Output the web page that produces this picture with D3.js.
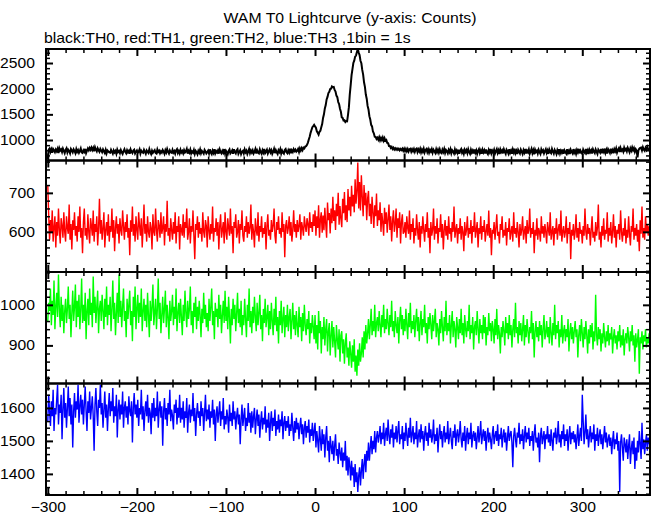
<!DOCTYPE html>
<html><head><meta charset="utf-8">
<script src="https://cdn.jsdelivr.net/npm/d3@7"></script>
<style>body{margin:0;background:#fff}svg{display:block}</style>
</head><body>
<script>
// ---- data (1 s bins starting at t = -300 s) ----
const tStart = -300, binWidth = 1;
const th0 = [
630,812,835,770,818,752,826,799,764,815,
781,829,748,840,795,817,766,832,790,744,
806,838,757,810,784,741,825,796,760,818,
787,745,822,768,803,752,790,836,761,749,
800,771,828,744,792,834,799,845,810,852,
805,848,783,860,812,779,838,801,770,827,
794,762,817,781,746,808,740,795,776,759,
752,810,771,735,796,758,786,730,813,766,
788,744,805,762,729,781,820,768,741,801,
760,789,732,815,770,745,794,812,738,772,
797,748,775,818,736,790,764,751,809,771,
733,796,769,746,821,762,725,793,750,780,
803,751,738,816,767,791,740,779,755,806,
774,731,800,758,824,769,737,797,761,752,
808,755,783,734,799,822,748,786,739,810,
757,785,741,804,759,781,826,735,789,756,
812,738,776,753,806,730,787,760,722,790,
754,815,742,788,761,733,807,775,739,764,
792,736,818,757,726,793,750,820,741,784,
759,797,735,814,763,740,789,755,823,737,
791,758,724,786,817,739,762,798,732,821,
763,737,795,819,731,768,801,727,772,790,
740,816,761,793,729,774,825,745,796,757,
798,735,769,822,738,800,756,741,818,766,
734,802,757,824,743,771,809,736,779,815,
760,799,730,773,827,744,803,762,728,801,
768,823,739,794,752,733,806,826,763,742,
801,757,829,741,798,766,820,785,812,771,
790,826,768,836,795,842,803,850,835,872,
880,905,950,1010,1065,1140,1195,1250,1270,1295,
1265,1240,1170,1140,1105,1160,1180,1250,1310,1430,
1500,1615,1680,1790,1840,1915,1940,1995,2000,2045,
2030,2035,1975,1945,1865,1835,1740,1700,1610,1550,
1440,1430,1380,1385,1350,1370,1365,1490,1640,1890,
2070,2265,2380,2500,2545,2625,2645,2715,2770,2705,
2655,2545,2495,2365,2275,2125,2035,1885,1805,1665,
1595,1465,1400,1295,1265,1165,1130,1065,1060,1020,
1045,1005,1055,995,1040,1000,1050,990,1035,985,
1000,945,940,885,885,845,865,825,850,815,
840,812,835,808,830,800,826,805,832,790,
830,784,826,781,824,776,820,829,773,818,
782,826,770,819,834,766,815,777,829,760,
813,771,830,758,806,825,764,817,752,808,
775,822,751,809,779,748,820,763,811,755,
818,760,745,812,768,826,750,804,779,741,
807,766,821,743,800,775,738,815,756,797,
748,812,735,795,824,752,790,731,808,767,
803,744,819,762,729,809,758,796,737,815,
752,798,730,788,823,746,794,734,811,760,
801,739,817,755,727,806,763,826,741,790,
757,810,736,782,821,748,796,728,814,765,
799,740,818,769,731,812,784,738,820,751,
795,733,815,760,829,742,787,726,808,771,
738,813,775,729,802,757,824,736,791,762,
816,734,780,827,745,799,721,811,766,790,
737,808,763,728,818,771,801,739,785,822,
751,796,730,815,768,744,826,777,735,806,
772,727,803,758,821,740,792,753,814,732,
798,764,735,819,750,790,726,810,769,741,
823,752,789,731,805,761,828,739,794,758,
733,812,770,745,824,756,797,728,811,766,
801,738,819,779,747,816,772,730,813,785,
754,825,741,798,766,833,752,807,738,822,
789,750,829,768,805,744,820,781,836,757,
808,840,765,845,792,816,774,850,799,826,
780,848,806,762,838,795,857,803,842,772,
822,790,660,798,831,846,852,797,861,815,
790,849,812,866,824,801];
const th1 = [
720,645,580,630,598,655,575,612,640,560,
625,590,660,605,570,635,615,585,650,600,
575,640,610,595,670,580,620,555,630,605,
650,590,615,575,640,600,665,585,610,545,
625,660,590,610,580,645,600,570,635,615,
590,655,575,620,600,640,565,610,685,595,
630,580,610,650,560,605,625,590,645,575,
615,600,660,585,630,550,610,640,595,620,
570,635,605,590,655,615,580,625,600,645,
585,610,540,630,600,665,590,620,575,640,
605,580,650,615,590,635,560,610,670,595,
620,575,640,600,585,625,610,555,645,600,
590,660,605,575,630,615,585,650,595,610,
640,565,620,600,680,590,610,575,635,605,
580,625,595,650,570,615,600,640,555,620,
605,590,645,585,625,610,660,580,600,635,
570,615,600,655,590,530,620,605,640,585,
625,595,610,575,650,600,585,630,615,560,
640,605,580,620,595,665,575,610,600,635,
590,625,555,615,645,585,605,625,570,650,
600,580,635,610,590,660,595,615,545,625,
610,645,585,600,630,570,620,605,655,590,
575,615,600,640,585,625,595,610,670,580,
620,600,560,635,605,590,650,575,615,600,
640,585,610,595,625,555,615,645,590,605,
580,630,600,615,660,590,570,625,605,640,
595,610,585,650,600,620,535,615,630,595,
610,640,590,625,575,605,655,600,620,585,
630,600,615,645,580,625,610,590,640,615,
600,635,620,590,650,610,625,600,645,615,
655,590,640,610,668,585,632,650,598,642,
604,662,620,585,675,630,648,596,660,622,
690,628,655,605,672,640,700,618,666,635,
612,685,648,702,630,668,625,710,655,690,
640,718,665,695,650,735,672,705,778,660,
728,655,745,690,640,720,668,700,630,685,
705,640,672,620,690,650,610,668,640,698,
615,655,630,676,600,648,625,590,662,620,
650,598,632,670,605,640,575,628,655,600,
620,660,585,635,610,650,570,625,645,595,
600,625,585,640,610,595,655,580,620,600,
635,570,610,590,645,605,580,625,560,615,
595,640,605,575,620,600,650,585,610,545,
625,590,605,660,580,615,595,635,570,610,
600,645,585,620,555,605,630,590,615,580,
640,595,610,575,625,600,665,585,605,620,
570,610,595,635,580,615,600,550,625,590,
605,640,585,610,595,630,570,615,600,650,
585,605,625,560,610,595,640,580,615,600,
630,575,600,620,590,655,585,610,540,605,
595,625,580,610,645,590,600,570,620,605,
640,585,605,590,625,565,610,600,635,580,
600,615,575,650,595,610,585,625,600,560,
620,590,605,640,580,600,615,570,630,595,
605,660,585,610,595,625,545,605,590,635,
580,610,600,575,640,595,615,585,620,600,
570,625,605,590,650,580,600,615,565,610,
595,635,580,605,620,590,655,575,600,615,
585,600,640,570,610,595,625,530,605,590,
620,580,600,645,585,610,575,625,595,605,
570,615,590,660,600,580,620,595,610,565,
605,640,585,600,575,625,590,610,670,580,
600,560,615,590,635,580,605,595,650,575,
610,590,625,570,600,645,585,615,560,605,
595,620,580,655,600,575,610,590,635,570,
605,585,640,595,565,615,600,660,580,610,
590,620,575,605,550,630,595,665,585,610,
580,640,600,620,590,615];
const th2 = [
960,1005,985,1040,950,1010,975,1060,940,995,
1030,970,1075,990,945,1020,960,1000,930,985,
1015,955,990,1045,965,1000,920,980,1035,960,
995,1050,945,1010,970,1025,940,990,1065,955,
1000,960,1030,915,985,1015,950,1040,975,1005,
945,1070,980,1020,955,995,1035,930,990,1010,
960,1025,985,940,1015,970,1045,950,1000,975,
1020,935,990,1060,965,1005,925,980,1030,955,
1075,970,1010,945,995,1040,960,985,920,1015,
965,1000,1035,950,985,910,1020,970,1045,940,
990,1025,955,1005,970,1040,935,985,1015,960,
1000,945,1030,975,920,1010,960,995,1050,950,
980,1015,940,990,1065,965,1005,930,975,1020,
955,990,1035,945,1000,970,915,1010,960,985,
1025,950,995,965,1040,935,980,1005,955,1015,
970,925,1000,960,1035,980,945,1010,965,990,
1045,950,985,930,1005,970,1020,940,995,960,
1010,975,920,990,955,1030,965,1000,945,980,
935,1015,960,995,1040,950,985,915,1005,970,
990,945,1025,965,1000,930,975,1010,955,1035,
960,995,940,1020,970,905,990,950,1015,965,
1000,935,980,1030,955,990,945,1010,925,975,
950,1015,965,920,1000,960,1040,945,985,930,
995,955,1020,970,935,1005,950,980,1025,940,
975,910,990,955,1015,945,970,1000,925,985,
940,1005,960,925,990,950,1020,935,970,905,
985,950,1010,930,965,995,920,975,945,1000,
935,970,990,915,960,1005,940,975,925,985,
950,920,995,945,970,910,980,935,1000,950,
925,965,940,985,905,955,930,975,945,915,
975,905,950,890,985,930,960,880,945,915,
970,900,940,965,885,935,955,875,925,960,
895,945,910,870,950,915,890,940,860,925,
935,880,915,855,905,930,870,895,850,910,
880,845,900,860,915,835,875,825,890,850,
905,860,880,920,870,935,890,950,905,930,
965,915,950,990,925,960,935,1000,920,955,
970,935,985,950,920,975,945,1000,930,965,
940,990,955,925,975,945,1010,935,960,920,
985,950,930,970,905,960,995,940,975,925,
965,935,990,950,915,980,945,1005,930,960,
940,975,920,960,990,935,970,910,955,985,
925,965,945,1000,930,955,905,970,940,980,
950,915,975,935,960,990,920,955,940,900,
965,930,985,945,910,970,935,1010,925,955,
935,975,905,950,985,920,960,940,895,970,
945,915,965,930,990,925,955,905,975,940,
920,960,935,1000,915,950,930,970,890,945,
960,925,985,940,905,965,930,950,915,975,
930,970,900,945,925,980,935,955,910,960,
940,905,965,925,990,915,950,930,880,945,
920,960,935,900,970,930,955,915,975,925,
950,895,940,965,920,1005,930,945,905,960,
925,955,910,940,975,900,950,920,965,935,
905,945,930,985,915,955,870,935,960,920,
945,910,960,925,950,895,940,975,915,930,
960,920,945,905,970,930,900,955,925,1000,
915,950,930,960,895,940,920,975,905,935,
950,910,940,920,965,885,930,955,915,945,
905,935,960,920,940,870,925,950,910,965,
930,895,945,915,960,925,880,940,905,950,
920,955,890,935,910,1025,925,900,945,915,
940,885,930,905,955,920,895,935,910,950,
900,930,915,945,880,920,940,905,925,890,
935,910,950,895,925,900,940,875,915,930,
905,945,920,885,935,910,950,900,925,860,
930,895,915,940,830,920,905,935,890,925,
910,940,895,920,905,930];
const th3 = [
1560,1640,1590,1545,1620,1575,1655,1530,1600,1580,
1625,1670,1550,1610,1585,1640,1505,1595,1660,1570,
1615,1540,1600,1665,1575,1630,1550,1610,1480,1590,
1645,1570,1620,1595,1670,1555,1605,1640,1580,1625,
1550,1610,1665,1590,1530,1620,1585,1650,1565,1600,
1635,1575,1470,1610,1660,1590,1545,1625,1600,1670,
1580,1615,1540,1595,1650,1570,1610,1530,1600,1645,
1575,1620,1590,1660,1555,1605,1575,1640,1510,1595,
1625,1565,1610,1580,1650,1540,1600,1620,1570,1605,
1550,1635,1590,1575,1620,1495,1600,1645,1580,1610,
1570,1625,1545,1600,1580,1655,1565,1605,1530,1590,
1620,1575,1640,1555,1600,1585,1520,1615,1570,1630,
1560,1600,1575,1650,1540,1595,1620,1570,1605,1485,
1590,1630,1565,1600,1545,1615,1580,1655,1560,1595,
1575,1535,1610,1585,1625,1550,1600,1570,1640,1555,
1600,1565,1620,1540,1590,1570,1630,1525,1585,1610,
1555,1595,1575,1645,1560,1600,1515,1580,1615,1570,
1590,1545,1620,1575,1600,1530,1585,1640,1560,1595,
1565,1610,1540,1590,1570,1625,1550,1595,1500,1580,
1605,1555,1585,1620,1545,1590,1565,1630,1535,1575,
1550,1595,1570,1525,1610,1560,1585,1545,1620,1565,
1590,1535,1575,1600,1550,1580,1490,1565,1610,1545,
1575,1600,1530,1570,1545,1615,1555,1585,1525,1590,
1540,1575,1600,1520,1565,1595,1545,1580,1510,1560,
1590,1535,1570,1550,1605,1525,1565,1540,1585,1500,
1555,1590,1530,1570,1545,1595,1515,1560,1535,1580,
1525,1565,1545,1590,1505,1555,1575,1530,1560,1540,
1575,1515,1550,1530,1585,1540,1500,1560,1525,1570,
1535,1555,1505,1545,1570,1520,1550,1490,1540,1560,
1510,1545,1525,1565,1495,1535,1515,1555,1500,1530,
1555,1480,1530,1500,1465,1545,1505,1470,1535,1490,
1520,1450,1510,1545,1470,1500,1435,1515,1485,1460,
1500,1440,1485,1520,1455,1475,1430,1495,1465,1440,
1480,1420,1465,1440,1500,1410,1455,1395,1450,1425,
1380,1440,1395,1420,1360,1430,1375,1405,1345,1395,
1420,1365,1410,1445,1385,1430,1460,1405,1470,1440,
1495,1440,1480,1515,1460,1500,1475,1530,1465,1510,
1530,1495,1515,1545,1490,1525,1505,1555,1485,1520,
1540,1500,1565,1515,1490,1535,1510,1550,1480,1525,
1505,1545,1495,1530,1560,1490,1520,1505,1545,1475,
1525,1500,1555,1515,1485,1540,1510,1570,1495,1520,
1545,1490,1525,1505,1560,1480,1515,1535,1495,1550,
1505,1530,1470,1520,1545,1500,1525,1485,1555,1510,
1535,1495,1515,1565,1490,1520,1500,1540,1465,1515,
1550,1505,1530,1480,1520,1545,1495,1525,1505,1560,
1490,1515,1540,1500,1475,1530,1510,1550,1485,1520,
1535,1495,1520,1560,1505,1480,1525,1500,1545,1470,
1515,1540,1490,1525,1505,1555,1480,1515,1530,1500,
1525,1475,1510,1545,1495,1520,1560,1490,1515,1535,
1500,1530,1470,1515,1540,1495,1525,1505,1475,1520,
1545,1490,1515,1530,1500,1550,1485,1520,1505,1540,
1480,1515,1535,1495,1525,1470,1510,1545,1500,1520,
1530,1495,1420,1515,1540,1505,1480,1525,1510,1555,
1490,1520,1500,1535,1475,1515,1545,1495,1525,1505,
1540,1485,1515,1500,1530,1470,1520,1550,1495,1510,
1480,1525,1435,1515,1540,1490,1510,1530,1475,1520,
1505,1545,1495,1520,1485,1535,1500,1470,1525,1510,
1540,1490,1515,1560,1495,1520,1480,1530,1505,1550,
1485,1520,1500,1535,1470,1515,1545,1490,1525,1505,
1530,1495,1520,1475,1510,1550,1485,1515,1540,1500,
1640,1560,1490,1525,1580,1505,1535,1480,1515,1545,
1495,1525,1505,1550,1470,1520,1500,1540,1485,1515,
1535,1490,1520,1475,1510,1545,1495,1525,1480,1505,
1520,1485,1510,1460,1500,1530,1475,1505,1490,1525,
1470,1500,1345,1495,1520,1480,1440,1510,1490,1465,
1505,1445,1485,1520,1430,1475,1500,1460,1510,1415,
1480,1440,1500,1465,1530,1490,1445,1555,1475,1505,
1460,1495,1520,1470,1510,1490];

const series = [th0, th1, th2, th3];
const seriesColors = ["#000000", "#ff0000", "#00ff00", "#0000ff"];
const yDomains = [[601, 2773], [497, 783], [806, 1081], [1336, 1674]];
const yMajorTicks = [[1000, 1500, 2000, 2500], [600, 700], [900, 1000], [1400, 1500, 1600]];
const yMinorStep = [100, 20, 20, 20];
const xDomain = [-302, 376];
const xMajorTicks = [-300, -200, -100, 0, 100, 200, 300];
const xMinorStep = 20;
const titleText = "WAM T0 Lightcurve (y-axis: Counts)";
const subtitleText = "black:TH0, red:TH1, green:TH2, blue:TH3 ,1bin = 1s";

// ---- layout ----
const W = 652, H = 515;
const plotLeft = 46, plotRight = 650, plotTop = 49, plotBottom = 495;
const nP = series.length;
const panelH = (plotBottom - plotTop) / nP;
const FONT = "'Liberation Sans', Arial, Helvetica, sans-serif";
const majorLen = 7, minorLen = 4;

const svg = d3.select("body").append("svg").attr("width", W).attr("height", H);
svg.append("rect").attr("width", W).attr("height", H).attr("fill", "#fff");

const x = d3.scaleLinear().domain(xDomain).range([plotLeft, plotRight]);
const xMinor = d3.range(Math.ceil(xDomain[0] / xMinorStep) * xMinorStep, xDomain[1], xMinorStep)
  .filter(v => !xMajorTicks.includes(v));

function addAxis(gen, tx, ty, sw) {
  const a = svg.append("g").attr("transform", `translate(${tx},${ty})`).call(gen);
  a.select(".domain").remove();
  a.selectAll("line").attr("stroke", "#000").attr("stroke-width", sw);
  return a;
}
function styleLabels(a, sx) {
  a.selectAll("text")
    .attr("font-family", FONT).attr("font-size", 14).attr("fill", "#000")
    .each(function () {
      const el = d3.select(this);
      const tx = +el.attr("x") || 0, ty = +el.attr("y") || 0;
      el.attr("x", 0).attr("y", 0)
        .attr("transform", `translate(${tx},${ty}) scale(${sx},1)`);
    });
}

series.forEach((vals, i) => {
  const top = plotTop + i * panelH, bottom = top + panelH;
  const y = d3.scaleLinear().domain(yDomains[i]).range([bottom, top]);

  svg.append("clipPath").attr("id", "clip" + i).append("rect")
    .attr("x", plotLeft).attr("y", top).attr("width", plotRight - plotLeft).attr("height", panelH);

  const line = d3.line().x((d, j) => x(tStart + j * binWidth)).y(d => y(d));
  svg.append("path").datum(vals)
    .attr("clip-path", `url(#clip${i})`)
    .attr("fill", "none").attr("stroke", seriesColors[i])
    .attr("stroke-width", i === 0 ? 2 : 1.4)
    .attr("d", line);

  const ys = yMinorStep[i];
  const yMinor = d3.range(Math.ceil(yDomains[i][0] / ys) * ys, yDomains[i][1], ys)
    .filter(v => !yMajorTicks[i].includes(v));

  const la = addAxis(d3.axisLeft(y).tickValues(yMajorTicks[i]).tickSize(-majorLen).tickPadding(11).tickFormat(d3.format("d")), plotLeft, 0, 2);
  styleLabels(la, 1.12);
  addAxis(d3.axisLeft(y).tickValues(yMinor).tickSize(-minorLen).tickFormat(""), plotLeft, 0, 1.5);
  addAxis(d3.axisRight(y).tickValues(yMajorTicks[i]).tickSize(-majorLen).tickFormat(""), plotRight, 0, 2);
  addAxis(d3.axisRight(y).tickValues(yMinor).tickSize(-minorLen).tickFormat(""), plotRight, 0, 1.5);

  addAxis(d3.axisTop(x).tickValues(xMajorTicks).tickSize(-majorLen).tickFormat(""), 0, top, 2);
  addAxis(d3.axisTop(x).tickValues(xMinor).tickSize(-minorLen).tickFormat(""), 0, top, 1.5);
  const last = i === nP - 1;
  const ba = addAxis(d3.axisBottom(x).tickValues(xMajorTicks).tickSize(-majorLen).tickPadding(7)
    .tickFormat(last ? (d => d3.format("d")(d).replace("-", "\u2212")) : ""), 0, bottom, 2);
  if (last) styleLabels(ba, 1.12);
  addAxis(d3.axisBottom(x).tickValues(xMinor).tickSize(-minorLen).tickFormat(""), 0, bottom, 1.5);

  svg.append("rect").attr("x", plotLeft).attr("y", top)
    .attr("width", plotRight - plotLeft).attr("height", panelH)
    .attr("fill", "none").attr("stroke", "#000").attr("stroke-width", 2);
});

svg.append("text").text(titleText)
  .attr("transform", `translate(${(plotLeft + plotRight) / 2 + 2},23) scale(1.13,1)`)
  .attr("text-anchor", "middle").attr("font-family", FONT).attr("font-size", 14).attr("fill", "#000");
svg.append("text").text(subtitleText)
  .attr("transform", `translate(44,43) scale(1.13,1)`)
  .attr("text-anchor", "start").attr("font-family", FONT).attr("font-size", 14).attr("fill", "#000");
</script>
</body></html>
